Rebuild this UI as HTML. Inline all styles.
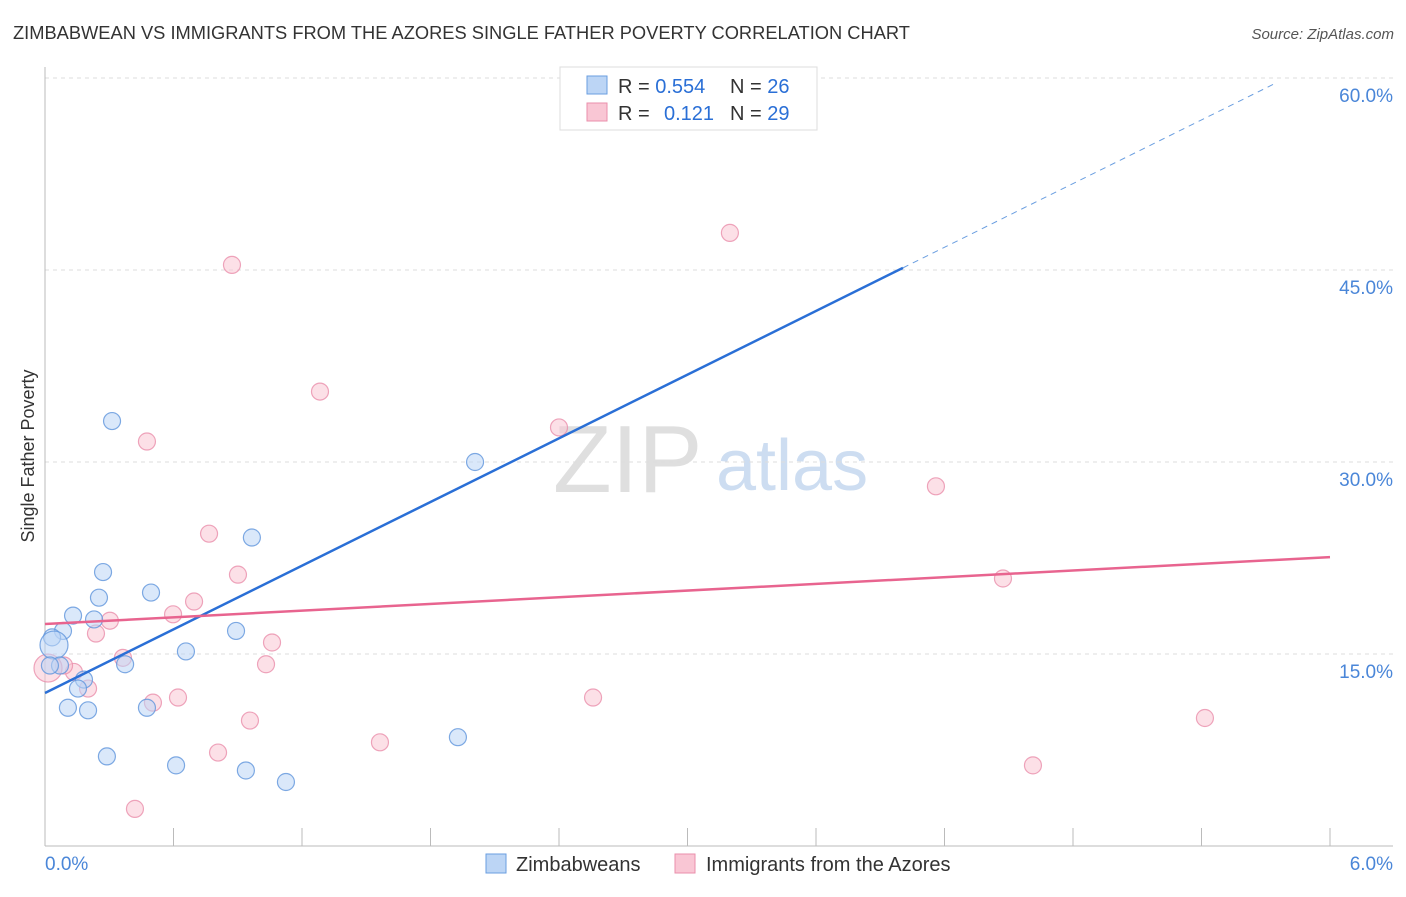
<!DOCTYPE html>
<html><head><meta charset="utf-8"><style>
body{margin:0;background:#fff;font-family:"Liberation Sans",sans-serif}
svg text{font-family:"Liberation Sans",sans-serif}
</style></head><body>
<svg id="chart" width="1406" height="892" xmlns="http://www.w3.org/2000/svg">
<text x="13" y="39" font-size="18.3" fill="#333">ZIMBABWEAN VS IMMIGRANTS FROM THE AZORES SINGLE FATHER POVERTY CORRELATION CHART</text>
<text x="1394" y="39" font-size="15" fill="#555" text-anchor="end" font-style="italic">Source: ZipAtlas.com</text>
<text transform="translate(34,456) rotate(-90)" font-size="18" fill="#333" text-anchor="middle">Single Father Poverty</text>
<g opacity="0.9">
<text x="553" y="492" font-size="96" fill="#dcdcdc" font-family="Liberation Serif,serif">ZIP</text>
<text x="716" y="490" font-size="72" fill="#c8daf0">atlas</text>
</g>
<g id="grid"></g><g id="axes"></g><g id="marks"></g>
<g>
<rect x="560" y="67" width="257" height="63" fill="#fff" stroke="#ddd"/>
<rect x="587" y="76" width="20" height="18" fill="#bcd5f5" stroke="#6a9ee0"/>
<rect x="587" y="103" width="20" height="18" fill="#f9c6d4" stroke="#ea8fab"/>
<text x="618" y="93" font-size="20" fill="#333">R = <tspan fill="#2a6fd6">0.554</tspan></text>
<text x="730" y="93" font-size="20" fill="#333">N = <tspan fill="#2a6fd6">26</tspan></text>
<text x="618" y="120" font-size="20" fill="#333">R = </text><text x="664" y="120" font-size="20" fill="#2a6fd6">0.121</text>
<text x="730" y="120" font-size="20" fill="#333">N = <tspan fill="#2a6fd6">29</tspan></text>
</g>
<g>
<rect x="486" y="854" width="20" height="19" fill="#bcd5f5" stroke="#6a9ee0"/>
<text x="516" y="871" font-size="20" fill="#333">Zimbabweans</text>
<rect x="675" y="854" width="20" height="19" fill="#f9c6d4" stroke="#ea8fab"/>
<text x="706" y="871" font-size="20" fill="#333">Immigrants from the Azores</text>
</g>
</svg>
<script>
const yTicks=[15,30,45,60];
const yTickLabels=["15.0%","30.0%","45.0%","60.0%"];
const xTickLabels=["0.0%","6.0%"];
const blueX=[0.313,2.008,0.966,0.271,0.495,0.252,0.131,0.229,0.084,0.892,0.033,0.042,0.658,0.374,0.070,0.182,0.154,0.107,0.201,0.476,1.928,0.289,0.612,0.938,1.125,0.023];
const blueY=[33.2,30.0,24.1,21.4,19.8,19.4,18.0,17.7,16.8,16.8,16.3,15.7,15.2,14.2,14.1,13.0,12.3,10.8,10.6,10.8,8.5,7.0,6.3,5.9,5.0,14.1];
const pinkX=[3.198,0.873,1.284,0.476,2.400,4.160,0.766,0.901,4.473,0.696,0.598,0.303,0.238,1.060,1.032,0.364,0.135,0.089,0.201,0.504,0.621,2.559,0.957,0.808,1.564,5.416,4.613,0.420,0.014];
const pinkY=[47.9,45.4,35.5,31.6,32.7,28.1,24.4,21.2,20.9,19.1,18.1,17.6,16.6,15.9,14.2,14.7,13.6,14.1,12.3,11.2,11.6,11.6,9.8,7.3,8.1,10.0,6.3,2.9,13.9];
const blueTrend=[11.95,61.7];
const pinkTrend=[17.34,22.57];
const NS="http://www.w3.org/2000/svg";
const X=v=>45+v/6*1285, Y=v=>846-v/15*192;
function mk(t,a,p){const e=document.createElementNS(NS,t);for(const k in a)e.setAttribute(k,a[k]);p.appendChild(e);return e;}
const grid=document.getElementById('grid'),axes=document.getElementById('axes'),marks=document.getElementById('marks');
yTicks.forEach((t,i)=>{
 const l=mk('line',{x1:45,x2:1393,y1:Y(t),y2:Y(t),stroke:'#ddd','stroke-dasharray':'4,4'},grid);
 
 
 const tx=mk('text',{x:1393,y:Y(t)+24,'font-size':19,fill:'#4a86d8','text-anchor':'end'},axes);
 tx.textContent=yTickLabels[i];
 
 
});
let a=mk('line',{x1:45,x2:45,y1:67,y2:846,stroke:'#bbb'},axes);


a=mk('line',{x1:45,x2:1393,y1:846,y2:846,stroke:'#bbb'},axes);


for(let i=0;i<=10;i++){
 const tk=mk('line',{x1:X(i*0.6),x2:X(i*0.6),y1:828,y2:846,stroke:'#bbb'},axes);
 
 
}
xTickLabels.forEach((s,i)=>{
 const tx=mk('text',{x:i?1393:45,y:870,'font-size':19,fill:'#4a86d8','text-anchor':i?'end':'start'},axes);
 tx.textContent=s;
 
 
});
function dots(xs,ys,fill,stroke,name,bigIdx){
 xs.forEach((x,i)=>{
  const c=mk('circle',{cx:X(x),cy:Y(ys[i]),r:i===bigIdx?14:8.5,fill:fill,'fill-opacity':0.55,stroke:stroke,'stroke-opacity':0.8,'stroke-width':1.2},marks);
  
  
 });
}
dots(pinkX,pinkY,'#f9c6d4','#ea8fab','azores-point',28);
dots(blueX,blueY,'#bcd5f5','#5f95dc','zimbabwean-point',11);
const by=x=>blueTrend[0]+(blueTrend[1]-blueTrend[0])*x/6;
let t=mk('line',{x1:X(0),y1:Y(by(0)),x2:X(4.006),y2:Y(by(4.006)),stroke:'#2a6fd6','stroke-width':2.5},marks);


t=mk('line',{x1:X(4.006),y1:Y(by(4.006)),x2:X(5.75),y2:Y(by(5.75)),stroke:'#6a9ee0','stroke-width':1,'stroke-dasharray':'6,5'},marks);


t=mk('line',{x1:X(0),y1:Y(pinkTrend[0]),x2:X(6),y2:Y(pinkTrend[1]),stroke:'#e8648f','stroke-width':2.5},marks);


</script>
</body></html>
